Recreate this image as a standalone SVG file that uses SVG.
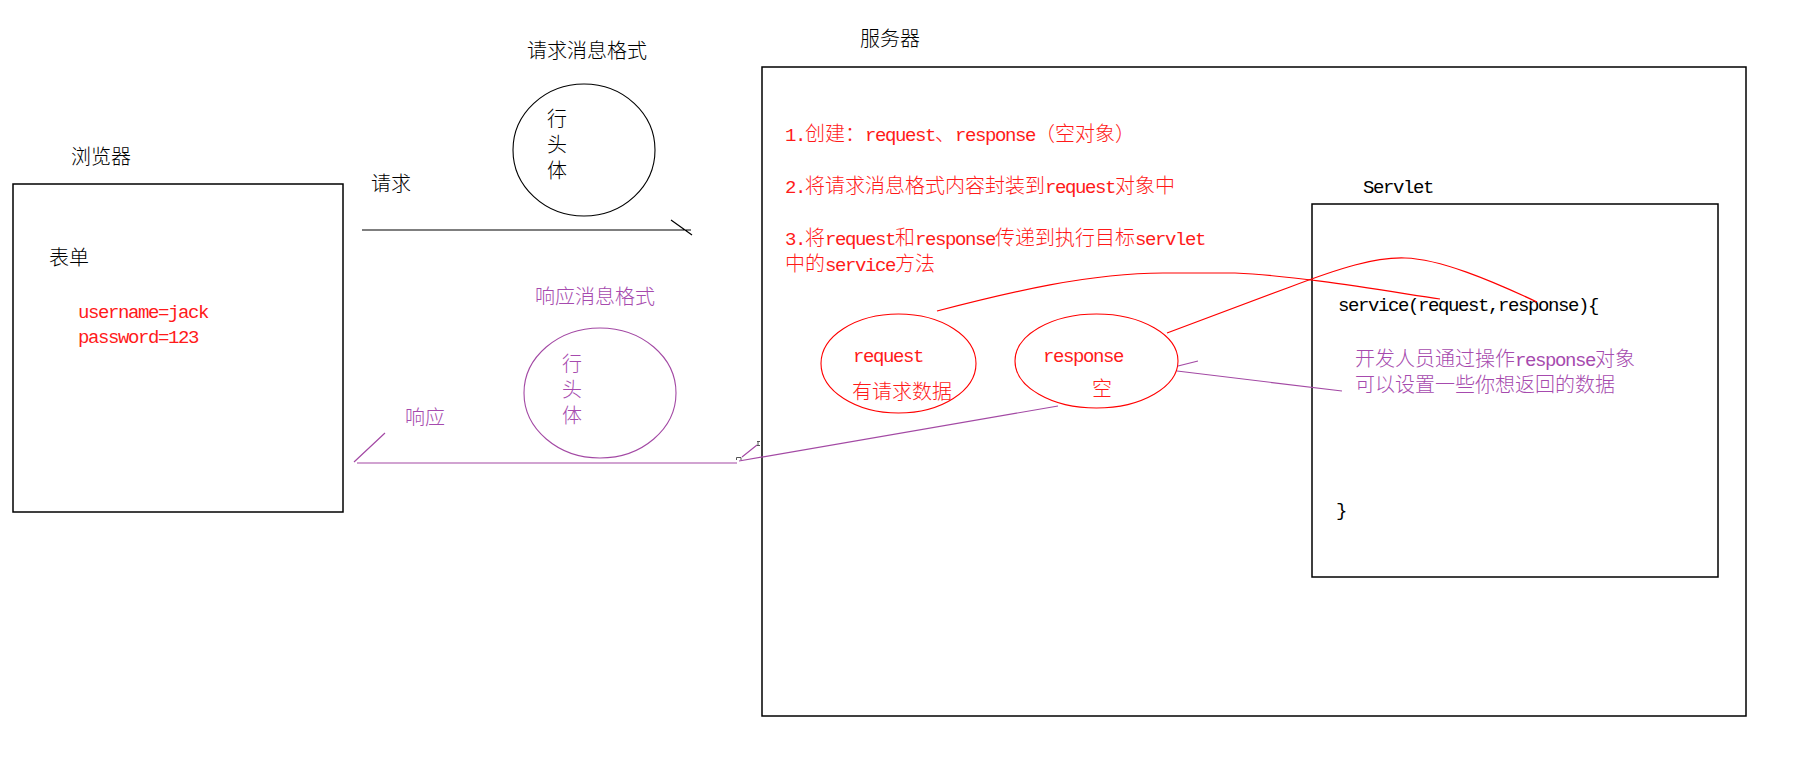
<svg xmlns="http://www.w3.org/2000/svg" width="1809" height="759" viewBox="0 0 1809 759">
<style>
  text { font-family: "Noto Sans CJK SC", sans-serif; font-size: 20px; font-weight: 300; }
  .a { font-family: "Liberation Mono", "Noto Sans CJK SC", monospace; font-size: 19px; letter-spacing: -1.4px; font-weight: normal; }
  .k { fill: #000; }
  .r { fill: #ff1a1a; }
  .p { fill: #a64aae; }
  .box { fill: none; stroke: #000; stroke-width: 1.5; }
  .el { fill: none; stroke-width: 1.1; }
  .ln { fill: none; stroke-width: 1.2; }
  .kl { stroke: #000; }
  .rl { stroke: #ff0000; }
  .pl { stroke: #a349a4; }
  .hd { fill: none; stroke: #555; stroke-width: 1; }
</style>
<rect width="1809" height="759" fill="#fff"/>

<g id="browser">
  <text class="k" x="71" y="164">浏览器</text>
  <rect class="box" x="13" y="184" width="330" height="328"/>
  <text class="k" x="49" y="265">表单</text>
  <text class="a r" x="78" y="318">username=jack</text>
  <text class="a r" x="78" y="343">password=123</text>
</g>

<g id="request-format">
  <text class="k" x="527" y="58">请求消息格式</text>
  <ellipse class="el kl" cx="584" cy="150" rx="71" ry="66"/>
  <text class="k" x="547" y="126">行</text>
  <text class="k" x="547" y="152">头</text>
  <text class="k" x="547" y="178">体</text>
</g>

<g id="response-format">
  <text class="p" x="535" y="304">响应消息格式</text>
  <ellipse class="el pl" cx="600" cy="393" rx="76" ry="65"/>
  <text class="p" x="562" y="371">行</text>
  <text class="p" x="562" y="397">头</text>
  <text class="p" x="562" y="423">体</text>
</g>

<g id="server">
  <text class="k" x="860" y="46">服务器</text>
  <rect class="box" x="762" y="67" width="984" height="649"/>
  <text class="r" y="141"><tspan class="a" x="785">1.</tspan><tspan x="805">创建：</tspan><tspan class="a" x="865">request</tspan><tspan x="935">、</tspan><tspan class="a" x="955">response</tspan><tspan x="1035">（空对象）</tspan></text>
  <text class="r" y="193"><tspan class="a" x="785">2.</tspan><tspan x="805">将请求消息格式内容封装到</tspan><tspan class="a" x="1045">request</tspan><tspan x="1115">对象中</tspan></text>
  <text class="r" y="245"><tspan class="a" x="785">3.</tspan><tspan x="805">将</tspan><tspan class="a" x="825">request</tspan><tspan x="895">和</tspan><tspan class="a" x="915">response</tspan><tspan x="995">传递到执行目标</tspan><tspan class="a" x="1135">servlet</tspan></text>
  <text class="r" y="271"><tspan x="785">中的</tspan><tspan class="a" x="825">service</tspan><tspan x="895">方法</tspan></text>
</g>

<g id="request-object">
  <ellipse class="el rl" cx="898.5" cy="363.5" rx="77.5" ry="49.5"/>
  <text class="a r" x="853" y="362">request</text>
  <text class="r" x="852" y="399">有请求数据</text>
</g>

<g id="response-object">
  <ellipse class="el rl" cx="1096.5" cy="361" rx="81.5" ry="47"/>
  <text class="a r" x="1043" y="362">response</text>
  <text class="r" x="1092" y="396">空</text>
</g>

<g id="servlet">
  <text class="a k" x="1363" y="193">Servlet</text>
  <rect class="box" x="1312" y="204" width="406" height="373"/>
  <text class="a k" x="1338" y="311">service(request,response){</text>
  <text class="p" y="366"><tspan x="1355">开发人员通过操作</tspan><tspan class="a" x="1515">response</tspan><tspan x="1595">对象</tspan></text>
  <text class="p" x="1355" y="392">可以设置一些你想返回的数据</text>
  <text class="a k" x="1336" y="516">}</text>
</g>

<g id="labels">
  <text class="k" x="371" y="191">请求</text>
  <text class="p" x="405" y="425">响应</text>
</g>

<g id="connectors">
  <path class="ln kl" d="M362,230 H691 M671,220 L692,235"/>
  <path class="ln pl" d="M357,463 H737 M354,462 L385,433 M739,461 L1058,406 M742,457 L757,445 M1177,371 L1342,391 M1178,366 L1198,361"/>
  <path class="ln rl" d="M937,311 C1010,292 1090,273 1163,273 L1235,273 C1300,276 1380,290 1440,299"/>
  <path class="ln rl" d="M1167,333 L1290,287 C1340,268 1375,257 1405,258 C1440,259 1490,280 1537,302"/>
  <path class="hd" d="M736.5,460 V457.5 H741 V460 M757,441.5 H760 M758,441.5 V445.5 M757,445.5 H760"/>
</g>
</svg>
